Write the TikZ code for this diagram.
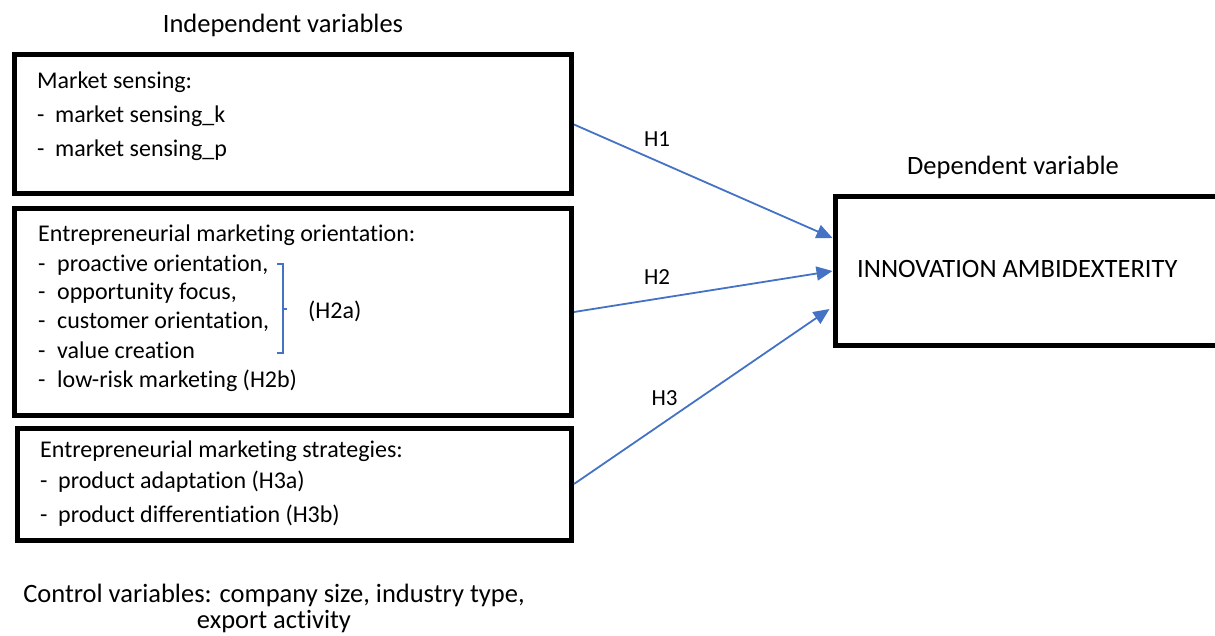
\documentclass[tikz,border=0pt]{standalone}
\usepackage{fontspec}
\setmainfont{Carlito}[Ligatures=NoCommon]
\usetikzlibrary{arrows.meta,calc}
\definecolor{arrowblue}{RGB}{68,114,196}
\begin{document}
\begin{tikzpicture}[x=1pt,y=-1pt,
  box/.style={draw=black,line width=5pt,inner sep=0pt,fill=none},
  txt/.style={anchor=base west,inner sep=0pt,font=\fontsize{24}{29}\selectfont},
  lbl/.style={anchor=base,inner sep=0pt,font=\fontsize{26.5}{32}\selectfont},
  hyp/.style={anchor=base,inner sep=0pt,font=\fontsize{23}{27}\selectfont},
  link/.style={draw=arrowblue,line width=1.8pt,-{Triangle[length=16pt,width=14pt]}},
  brace/.style={draw=arrowblue,line width=1.5pt}]
\useasboundingbox (0,0) rectangle (1215,636);

% boxes
\node[box,minimum width=557pt,minimum height=139pt] (b1) at (293,124.5) {};
\node[box,minimum width=557pt,minimum height=206pt] (b2) at (293,312) {};
\node[box,minimum width=554pt,minimum height=112pt] (b3) at (294.5,484) {};
\node[box,minimum width=395pt,minimum height=148pt] (dv) at (1032.5,271) {};

% headings
\node[lbl] (indep) at (283,33) {Independent variables};
\node[lbl] (dep) at (1013,175) {Dependent variable};
\node[anchor=base west,inner sep=0pt,font=\fontsize{26.5}{32}\selectfont] (ia) at (857,278) {INNOVATION AMBIDEXTERITY};

% box 1
\node[txt] (ms) at (37,89) {Market sensing:};
\node[txt] (ms1) at (37,123) {\makebox[18pt][l]{-}market sensing\_k};
\node[txt] (ms2) at (37,157) {\makebox[18pt][l]{-}market sensing\_p};

% box 2
\node[txt] (emo) at (38,242) {Entrepreneurial marketing orientation:};
\node[txt] (emo1) at (38,272) {\makebox[19pt][l]{-}proactive orientation,};
\node[txt] (emo2) at (38,300) {\makebox[19pt][l]{-}opportunity focus,};
\node[txt] (emo3) at (38,328) {\makebox[19pt][l]{-}customer orientation,};
\node[txt] (emo4) at (38,358) {\makebox[19pt][l]{-}value creation};
\node[txt] (emo5) at (38,387) {\makebox[19pt][l]{-}low-risk marketing (H2b)};
\draw[brace] (277,264) -- (283,264) -- (283,353) -- (277,353);
\draw[brace] (283,309) -- (287,309);
\node[txt] (h2a) at (308,318) {(H2a)};

% box 3
\node[txt] (ems) at (40,457) {Entrepreneurial marketing strategies:};
\node[txt] (ems1) at (40,488) {\makebox[18pt][l]{-}product adaptation (H3a)};
\node[txt] (ems2) at (40,522) {\makebox[18pt][l]{-}product differentiation (H3b)};

% control variables
\node[lbl] (ctrl1) at (274,602) {Control variables: company size, industry type,};
\node[lbl] (ctrl2) at (274,628.5) {export activity};

% connectors
\coordinate (t1) at ($(dv.west)+(0,-33)$);
\coordinate (t2) at (dv.west);
\coordinate (t3) at ($(dv.west)+(-3,38)$);
\draw[link] (b1.east) -- (t1);
\draw[link] (b2.east) -- (t2);
\draw[link] (b3.east) -- (t3);

\node[hyp] (h1) at (657,147) {H1};
\node[hyp] (h2) at (657,285) {H2};
\node[hyp] (h3) at (664.5,405) {H3};
\end{tikzpicture}
\end{document}
